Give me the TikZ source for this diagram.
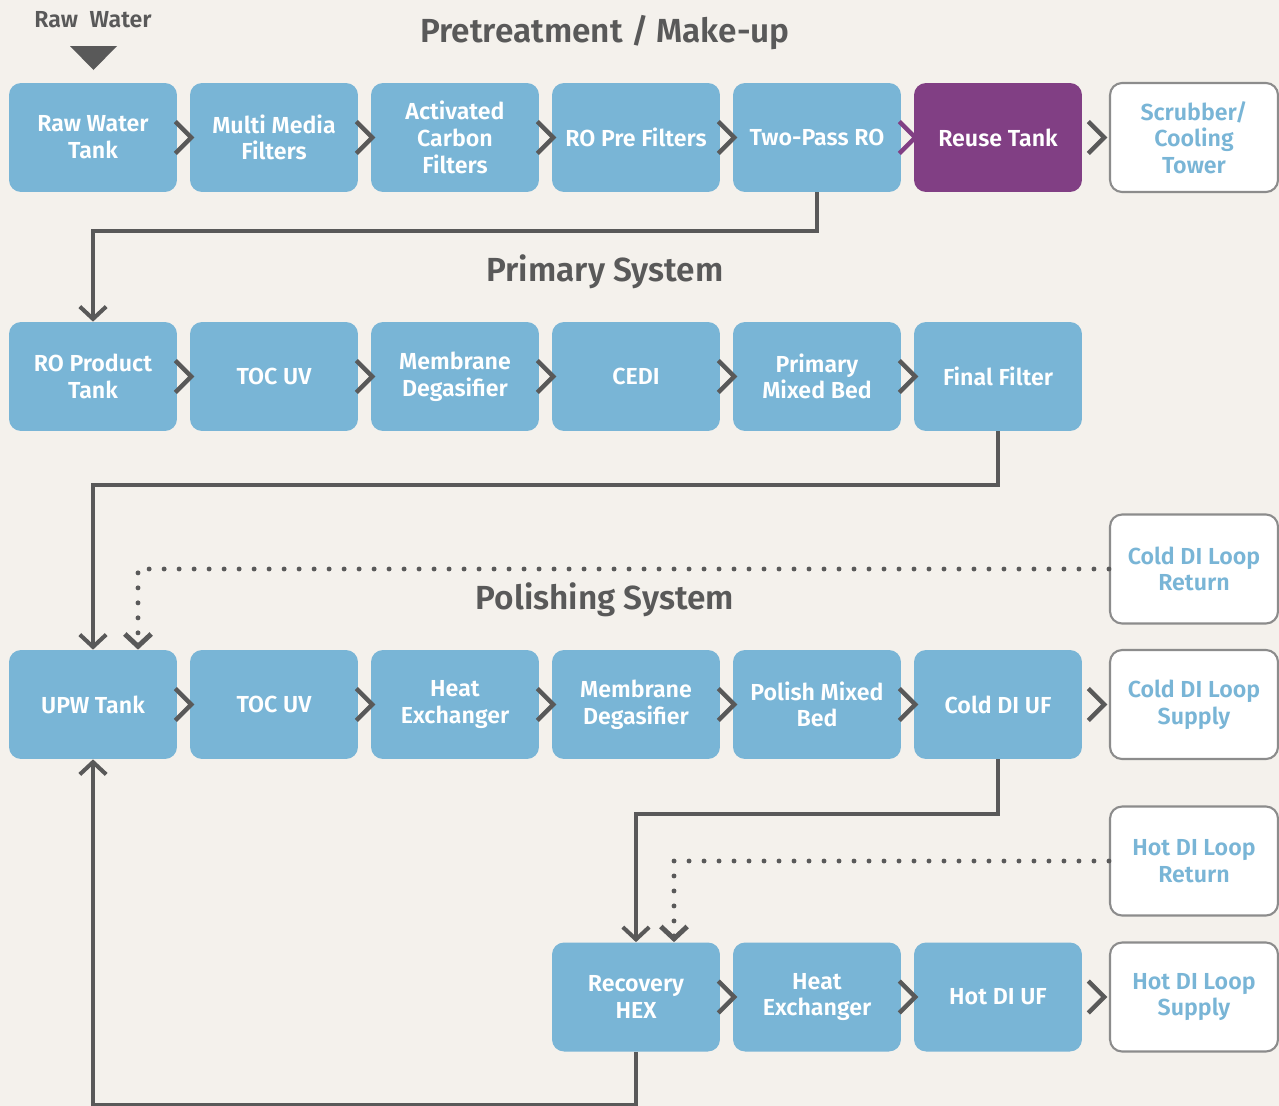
\documentclass[tikz,border=0pt]{standalone}
\usepackage{fontspec}
\setmainfont{Fira Sans}[BoldFont={Fira Sans SemiBold}]
\usepackage{xcolor}
\usetikzlibrary{arrows.meta,calc,positioning}
\definecolor{bgcol}{HTML}{F4F1EC}
\definecolor{boxblue}{HTML}{79B5D6}
\definecolor{reusepurple}{HTML}{813F84}
\definecolor{linegray}{HTML}{595959}
\definecolor{framegray}{HTML}{8C8C8C}
\tikzset{%
	process/.style = {rectangle, rounded corners=0.24cm, fill=boxblue, text=white, minimum width=3.36cm, minimum height=2.18cm, align=center, inner sep=2pt, font=\bfseries\fontsize{13.2}{15.2}\selectfont},
	reusebox/.style = {process, fill=reusepurple},
	outlet/.style   = {process, fill=white, draw=framegray, line width=1.2pt, text=boxblue},
	chevron/.style  = {draw=linegray, line width=2.5pt},
	flow/.style     = {draw=linegray, line width=2.3pt, -{Straight Barb[length=7pt,width=15pt]}},
	dotflow/.style  = {flow, line width=2.8pt, line cap=round, dash pattern=on 0pt off 0.3cm},
	title/.style    = {text=linegray, font=\bfseries\fontsize{19}{22}\selectfont},
}
\begin{document}
\begin{tikzpicture}[x=0.02cm,y=-0.02cm]
	\fill[bgcol] (0,0) rectangle (1279,1106);
	\useasboundingbox (0,0) rectangle (1279,1106);
	
	\node[title] (ttlpre) at (605,33) {Pretreatment / Make-up};
	\node[title] (ttlprim) at (605,272) {Primary System};
	\node[title] (ttlpol) at (605,600) {Polishing System};
	\node[text=linegray, font=\bfseries\fontsize{13.2}{15}\selectfont] (rawlbl) at (93,20) {Raw\enspace Water};
	\fill[linegray] (70,46) -- (117,46) -- (93.5,70) -- cycle;  % inlet
	
	% pretreatment
	\node[process] (rawtank) at (93,137.5) {Raw Water\\Tank};
	\node[process] (mmf) at (274,137.5) {Multi Media\\Filters};
	\node[process] (carbon) at (455,137.5) {Activated\\Carbon\\Filters};
	\node[process] (rofilt) at (636,137.5) {RO Pre Filters};
	\node[process] (tworo) at (817,137.5) {Two-Pass RO};
	\node[reusebox] (reuse) at (998,137.5) {Reuse Tank};
	\node[outlet] (scrub) at (1194,137.5) {Scrubber/\\Cooling\\Tower};
	
	% primary
	\node[process] (rotank) at (93,376.5) {RO Product\\Tank};
	\node[process] (tocuv) at (274,376.5) {TOC UV};
	\node[process] (memdeg) at (455,376.5) {Membrane\\Degasifier};
	\node[process] (cedi) at (636,376.5) {CEDI};
	\node[process] (pmb) at (817,376.5) {Primary\\Mixed Bed};
	\node[process] (finalf) at (998,376.5) {Final Filter};
	
	% polishing
	\node[outlet] (coldret) at (1194,569) {Cold DI Loop\\Return};
	\node[process] (upw) at (93,704.5) {UPW Tank};
	\node[process] (tocuvb) at (274,704.5) {TOC UV};
	\node[process] (heatx) at (455,704.5) {Heat\\Exchanger};
	\node[process] (memdegb) at (636,704.5) {Membrane\\Degasifier};
	\node[process] (polmb) at (817,704.5) {Polish Mixed\\Bed};
	\node[process] (colduf) at (998,704.5) {Cold DI UF};
	\node[outlet] (coldsup) at (1194,704.5) {Cold DI Loop\\Supply};
	\node[outlet] (hotret) at (1194,861) {Hot DI Loop\\Return};
	\node[process] (rechex) at (636,997) {Recovery\\HEX};
	\node[process] (heatxb) at (817,997) {Heat\\Exchanger};
	\node[process] (hotuf) at (998,997) {Hot DI UF};
	\node[outlet] (hotsup) at (1194,997) {Hot DI Loop\\Supply};
	
	% chevrons
	\draw[chevron] ($(rawtank.east)+(-2,-16)$) -- ++(16,16) -- ++(-16,16);
	\draw[chevron] ($(mmf.east)+(-2,-16)$) -- ++(16,16) -- ++(-16,16);
	\draw[chevron] ($(carbon.east)+(-2,-16)$) -- ++(16,16) -- ++(-16,16);
	\draw[chevron] ($(rofilt.east)+(-2,-16)$) -- ++(16,16) -- ++(-16,16);
	\draw[chevron, draw=reusepurple] ($(tworo.east)+(-2,-16)$) -- ++(16,16) -- ++(-16,16);
	\draw[chevron] ($(reuse.east)+(6,-16)$) -- ++(16,16) -- ++(-16,16);
	\draw[chevron] ($(rotank.east)+(-2,-16)$) -- ++(16,16) -- ++(-16,16);
	\draw[chevron] ($(tocuv.east)+(-2,-16)$) -- ++(16,16) -- ++(-16,16);
	\draw[chevron] ($(memdeg.east)+(-2,-16)$) -- ++(16,16) -- ++(-16,16);
	\draw[chevron] ($(cedi.east)+(-2,-16)$) -- ++(16,16) -- ++(-16,16);
	\draw[chevron] ($(pmb.east)+(-2,-16)$) -- ++(16,16) -- ++(-16,16);
	\draw[chevron] ($(upw.east)+(-2,-16)$) -- ++(16,16) -- ++(-16,16);
	\draw[chevron] ($(tocuvb.east)+(-2,-16)$) -- ++(16,16) -- ++(-16,16);
	\draw[chevron] ($(heatx.east)+(-2,-16)$) -- ++(16,16) -- ++(-16,16);
	\draw[chevron] ($(memdegb.east)+(-2,-16)$) -- ++(16,16) -- ++(-16,16);
	\draw[chevron] ($(polmb.east)+(-2,-16)$) -- ++(16,16) -- ++(-16,16);
	\draw[chevron] ($(colduf.east)+(6,-16)$) -- ++(16,16) -- ++(-16,16);
	\draw[chevron] ($(rechex.east)+(-2,-16)$) -- ++(16,16) -- ++(-16,16);
	\draw[chevron] ($(heatxb.east)+(-2,-16)$) -- ++(16,16) -- ++(-16,16);
	\draw[chevron] ($(hotuf.east)+(6,-16)$) -- ++(16,16) -- ++(-16,16);
	
	% connectors
	\draw[flow] (tworo.south) -- ++(0,39) -| (rotank.north);
	\draw[flow] (finalf.south) -- ++(0,54) -| (upw.north);
	\draw[dotflow] (coldret.west) -| ($(upw.north)+(45,0)$);
	\draw[flow] (colduf.south) -- ++(0,55) -| (rechex.north);
	\draw[dotflow] (hotret.west) -| ($(rechex.north)+(38,0)$);
	\draw[flow] (rechex.south) -- ++(0,53) -| (upw.south);
	
\end{tikzpicture}
\end{document}
